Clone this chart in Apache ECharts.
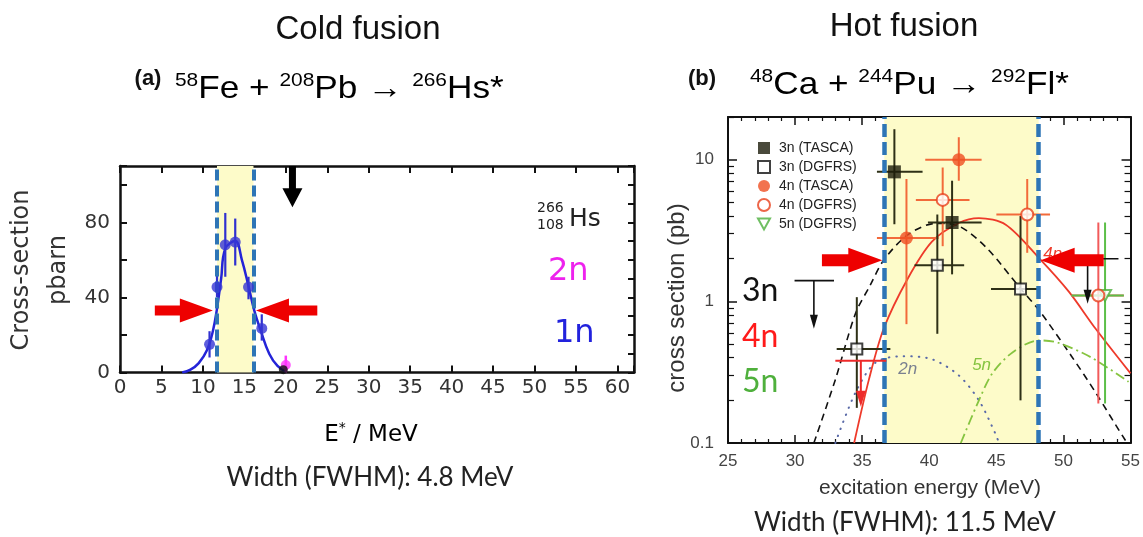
<!DOCTYPE html>
<html><head><meta charset="utf-8">
<script src="https://cdn.jsdelivr.net/npm/echarts@6/dist/echarts.min.js"></script>
<style>html,body{margin:0;padding:0;background:#fff}#c{width:1143px;height:537px}</style>
</head><body><div id="c"></div>
<script>
// ---------- Panel (a): cold fusion 58Fe + 208Pb -> 266Hs*, 1n channel ----------
const coldXTicks = [0, 5, 10, 15, 20, 25, 30, 35, 40, 45, 50, 55, 60];
const coldYTicks = [0, 40, 80];
const coldX   = [10.8, 11.7, 12.7, 13.9, 15.5, 17.1];
const coldY   = [15, 45.5, 68, 69.5, 45.5, 23.5];
const coldYLo = [8, 40, 51, 57, 39, 17];
const coldYHi = [22, 53, 85, 82, 51, 31];
const coldFitX = [7.5, 8.5, 9.5, 10.5, 11.2, 11.7, 12.2, 12.7, 13.9, 14.7, 15.5, 16.2, 17.0, 18.0, 19.0, 20.0];
const coldFitY = [0, 1.5, 5, 12, 22, 34, 50, 66, 70, 60, 46, 33, 22, 10, 3.5, 0.5];
const cold2nX = [20.0], cold2nY = [4], cold2nYHi = [9];
const coldBlackX = [19.7], coldBlackY = [1.5];
const coldBand = [11.7, 16.1];
const coldArrows = [[4.2, 11.2, 33], [23.8, 16.4, 33]];      // [tail, tip, y]
const coldLimit = [[20.8, 110, 88]];                           // [x, top, tip]

// ---------- Panel (b): hot fusion 48Ca + 244Pu -> 292Fl* ----------
const hotXTicks = [25, 30, 35, 40, 45, 50, 55];
const hotYTicks = [0.1, 1, 10];
const hotYMinor = [0.2, 0.3, 0.4, 0.5, 0.6, 0.7, 0.8, 0.9, 2, 3, 4, 5, 6, 7, 8, 9, 20];
// rows: [x, y, xLo, xHi, yLo, yHi]
const h3nTasca = [[37.4, 8.2, 36.1, 39.5, 3.5, 16.4], [41.7, 3.6, 39.9, 43.9, 1.55, 7.1]];
const h3nDgfrs = [[34.6, 0.46, 33.1, 37.1, 0.177, 1.07], [40.6, 1.8, 38.9, 42.6, 0.59, 4.1], [46.8, 1.22, 44.6, 48.2, 0.2, 4.0]];
const h4nTasca = [[38.3, 2.8, 36.1, 40.7, 0.69, 7.3], [42.2, 10, 39.7, 43.9, 7.1, 14.4]];
const h4nDgfrs = [[41.0, 5.2, 39.0, 43.0, 2.45, 8.8], [47.3, 4.1, 45.0, 49.0, 2.2, 7.3], [52.6, 1.1, 50.6, 54.5, 0.19, 3.6]];
const h5nDgfrs = [[53.1, 1.1, 50.6, 54.5, 0.19, 3.6]];
// upper limits: [x, top, tip, xLo, xHi]
const h3nLimit = [[51.8, 2.0, 0.96, 50.8, 54.1]];
const h4nLimit = [[34.9, 0.38, 0.18, 33.0, 36.8]];
const keyLimit = [[31.4, 1.4, 0.64, 29.96, 32.9]];
const fit3nX = [31.4, 33.0, 34.5, 35.6, 36.6, 38.4, 40.5, 42.2, 44.3, 46.8, 48.2, 50.6, 52.4, 54.6, 55.0];
const fit3nY = [0.1, 0.28, 0.82, 1.3, 1.95, 2.95, 3.55, 3.4, 2.37, 1.23, 0.86, 0.41, 0.227, 0.105, 0.095];
const fit4nX = [34.4, 35.5, 36.6, 38.4, 40.2, 42.2, 43.7, 45.7, 48.2, 50.4, 52.4, 55.0];
const fit4nY = [0.1, 0.28, 0.64, 1.45, 2.64, 3.57, 3.87, 3.47, 2.01, 1.17, 0.64, 0.31];
const fit2nX = [33.0, 34.5, 36.0, 38.0, 40.2, 42.2, 43.7, 44.9, 45.2];
const fit2nY = [0.1, 0.227, 0.37, 0.41, 0.39, 0.30, 0.2, 0.118, 0.1];
const fit5nX = [42.35, 43.7, 44.7, 46.2, 48.15, 49.6, 52.1, 54.85];
const fit5nY = [0.1, 0.2, 0.31, 0.436, 0.53, 0.51, 0.40, 0.27];
const hotBand = [36.65, 48.15];
const hotArrows = [[32.0, 36.5, 1.95], [53.0, 48.3, 1.95]];
const hotNotes = [[38.4, 0.33], [43.9, 0.355], [49.2, 2.15]];
const hotNoteText = ['2n', '5n', '4n'];
const hotNoteColor = ['#7a8090', '#86c440', '#ee3a2a'];
const legendNames = ['3n (TASCA)', '3n (DGFRS)', '4n (TASCA)', '4n (DGFRS)', '5n (DGFRS)'];

const A_FONT = "'DejaVu Sans', sans-serif";
const B_FONT = "'Liberation Sans', Arial, sans-serif";
const C_FONT = "Lato, 'Open Sans', sans-serif";
const DOWN_TRI = 'path://M0,0 L10,0 L5,9 Z';

const zip = (a, b) => a.map((v, i) => [v, b[i]]);

function errItem(color, w) {
  return function (params, api) {
    const x = api.value(0), y = api.value(1), xl = api.value(2), xh = api.value(3), yl = api.value(4), yh = api.value(5);
    const ch = [];
    if (xh > xl) {
      const a = api.coord([xl, y]), b = api.coord([xh, y]);
      ch.push({type: 'line', shape: {x1: a[0], y1: a[1], x2: b[0], y2: b[1]}, style: {stroke: color, lineWidth: w}});
    }
    if (yh > yl) {
      const a = api.coord([x, yl]), b = api.coord([x, yh]);
      ch.push({type: 'line', shape: {x1: a[0], y1: a[1], x2: b[0], y2: b[1]}, style: {stroke: color, lineWidth: w}});
    }
    return {type: 'group', children: ch};
  };
}
function fatArrow(color, s, h, H) {
  return function (params, api) {
    const p0 = api.coord([api.value(0), api.value(2)]), p1 = api.coord([api.value(1), api.value(2)]);
    const d = p1[0] > p0[0] ? 1 : -1, y = p0[1], bx = p1[0] - d * H;
    return {type: 'polygon', shape: {points: [[p0[0], y - s], [bx, y - s], [bx, y - h], [p1[0], y], [bx, y + h], [bx, y + s], [p0[0], y + s]]}, style: {fill: color}};
  };
}
function downFatArrow(color, s, h, H) {
  return function (params, api) {
    const p0 = api.coord([api.value(0), api.value(1)]), p1 = api.coord([api.value(0), api.value(2)]);
    const x = p0[0], by = p1[1] - H;
    return {type: 'polygon', shape: {points: [[x - s, p0[1]], [x - s, by], [x - h, by], [x, p1[1]], [x + h, by], [x + s, by], [x + s, p0[1]]]}, style: {fill: color}};
  };
}
function limitItem(color, w, hw, hl) {
  return function (params, api) {
    const x = api.value(0), top = api.value(1), tip = api.value(2), xl = api.value(3), xh = api.value(4);
    const a = api.coord([xl, top]), b = api.coord([xh, top]), t = api.coord([x, top]), p = api.coord([x, tip]);
    return {type: 'group', children: [
      {type: 'line', shape: {x1: a[0], y1: a[1], x2: b[0], y2: b[1]}, style: {stroke: color, lineWidth: w}},
      {type: 'line', shape: {x1: t[0], y1: t[1], x2: p[0], y2: p[1] - hl + 1}, style: {stroke: color, lineWidth: w}},
      {type: 'polygon', shape: {points: [[p[0] - hw, p[1] - hl], [p[0] + hw, p[1] - hl], [p[0], p[1]]]}, style: {fill: color}}
    ]};
  };
}

const lineA = {onZero: false, lineStyle: {color: '#111', width: 2.5}};
const lineB = {onZero: false, lineStyle: {color: '#111', width: 2}};
const supRich = (main, sup) => ({
  m: {fontSize: main, fontFamily: B_FONT, fontWeight: 'normal', color: '#111', lineHeight: 36},
  s: {fontSize: sup, fontFamily: B_FONT, fontWeight: 'normal', color: '#111', lineHeight: 36, verticalAlign: 'top', padding: [0, 0, 16, 0]}
});

const option = {
  animation: false,
  backgroundColor: '#fff',
  grid: [
    {left: 120, top: 166, width: 514, height: 206.5},
    {left: 728, top: 117, width: 404, height: 326}
  ],
  legend: {
    left: 752, top: 136, orient: 'vertical', itemGap: 5, itemWidth: 12, itemHeight: 12,
    selectedMode: false, textStyle: {fontFamily: B_FONT, fontSize: 14, color: '#222', padding: [0, 0, 0, 4]},
    data: legendNames
  },
  xAxis: [
    {gridIndex: 0, type: 'value', min: 0, max: 62, interval: 5, position: 'bottom',
      axisLine: lineA, axisTick: {inside: true, length: 7, lineStyle: {color: '#111', width: 2}},
      axisLabel: {formatter: v => coldXTicks.includes(v) ? String(v) : '', color: '#333', fontFamily: A_FONT, fontSize: 20, margin: 5},
      splitLine: {show: false}},
    {gridIndex: 0, type: 'value', min: 0, max: 62, interval: 5, position: 'top',
      axisLine: lineA, axisTick: {inside: true, length: 7, lineStyle: {color: '#111', width: 2}},
      axisLabel: {show: false}, splitLine: {show: false}},
    {gridIndex: 1, type: 'value', min: 25, max: 55, interval: 5, position: 'bottom',
      axisLine: lineB, axisTick: {inside: true, length: 8, lineStyle: {color: '#111', width: 1.5}},
      minorTick: {show: true, splitNumber: 5, length: 4, lineStyle: {color: '#111', width: 1.2}},
      axisLabel: {formatter: v => hotXTicks.includes(v) ? String(v) : '', color: '#444', fontFamily: B_FONT, fontSize: 17, margin: 10},
      splitLine: {show: false}},
    {gridIndex: 1, type: 'value', min: 25, max: 55, interval: 5, position: 'top',
      axisLine: lineB, axisTick: {inside: true, length: 8, lineStyle: {color: '#111', width: 1.5}},
      minorTick: {show: true, splitNumber: 5, length: 4, lineStyle: {color: '#111', width: 1.2}},
      axisLabel: {show: false}, splitLine: {show: false}}
  ],
  yAxis: [
    {gridIndex: 0, type: 'value', min: 0, max: 110, interval: 20, position: 'left',
      axisLine: Object.assign({show: true}, lineA), axisTick: {show: true, inside: true, length: 7, lineStyle: {color: '#111', width: 2}},
      axisLabel: {formatter: v => coldYTicks.includes(v) ? String(v) : '', color: '#333', fontFamily: A_FONT, fontSize: 20, margin: 10},
      splitLine: {show: false}},
    {gridIndex: 0, type: 'value', min: 0, max: 110, interval: 10, position: 'right',
      axisLine: Object.assign({show: true}, lineA), axisTick: {show: true, inside: true, length: 6, lineStyle: {color: '#111', width: 2}},
      axisLabel: {show: false}, splitLine: {show: false}},
    {gridIndex: 1, type: 'log', logBase: 10, min: 0.1, max: 20, position: 'left',
      axisLine: Object.assign({show: true}, lineB),
      axisTick: {show: true, inside: true, length: 9, customValues: hotYTicks, lineStyle: {color: '#111', width: 1.5}},
      axisLabel: {customValues: hotYTicks, formatter: v => { const l = Math.log10(v); return Math.abs(l - Math.round(l)) < 1e-6 && v < 15 ? String(+v.toPrecision(3)) : ''; },
        color: '#444', fontFamily: B_FONT, fontSize: 17, margin: 14},
      splitLine: {show: false}},
    {gridIndex: 1, type: 'log', logBase: 10, min: 0.1, max: 20, position: 'left',
      axisLine: {show: false},
      axisTick: {show: true, inside: true, length: 6, customValues: hotYMinor, lineStyle: {color: '#111', width: 1.2}},
      axisLabel: {show: false}, splitLine: {show: false}},
    {gridIndex: 1, type: 'log', logBase: 10, min: 0.1, max: 20, position: 'right',
      axisLine: Object.assign({show: true}, lineB),
      axisTick: {show: true, inside: true, length: 9, customValues: hotYTicks, lineStyle: {color: '#111', width: 1.5}},
      axisLabel: {show: false}, splitLine: {show: false}},
    {gridIndex: 1, type: 'log', logBase: 10, min: 0.1, max: 20, position: 'right',
      axisLine: {show: false},
      axisTick: {show: true, inside: true, length: 6, customValues: hotYMinor, lineStyle: {color: '#111', width: 1.2}},
      axisLabel: {show: false}, splitLine: {show: false}}
  ],
  series: [
    // ---- panel (a)
    {type: 'line', name: 'fit1n', xAxisIndex: 0, yAxisIndex: 0, data: zip(coldFitX, coldFitY), smooth: 0.4, showSymbol: false,
      lineStyle: {color: '#2424d8', width: 2.5}, z: 3, silent: true,
      markArea: {silent: true, itemStyle: {color: '#fdfbc9'}, data: [[{xAxis: coldBand[0]}, {xAxis: coldBand[1]}]]},
      markLine: {silent: true, symbol: 'none', label: {show: false}, lineStyle: {color: '#2e75b6', width: 4, type: [11, 5]},
        data: [{xAxis: coldBand[0]}, {xAxis: coldBand[1]}]}},
    {type: 'custom', xAxisIndex: 0, yAxisIndex: 0, renderItem: errItem('#3030d0', 2.2), encode: {x: 0, y: 1},
      data: coldX.map((x, i) => [x, coldY[i], x, x, coldYLo[i], coldYHi[i]]), z: 4, silent: true},
    {type: 'custom', xAxisIndex: 0, yAxisIndex: 0, renderItem: errItem('#ff33ff', 2.5), encode: {x: 0, y: 1},
      data: cold2nX.map((x, i) => [x, cold2nY[i], x, x, 0, cold2nYHi[i]]), z: 4, silent: true},
    {type: 'scatter', xAxisIndex: 0, yAxisIndex: 0, data: zip(cold2nX, cold2nY), symbolSize: 10, itemStyle: {color: '#ff33ff'}, z: 5, silent: true},
    {type: 'scatter', xAxisIndex: 0, yAxisIndex: 0, data: zip(coldBlackX, coldBlackY), symbolSize: 9, itemStyle: {color: '#111'}, z: 6, silent: true},
    {type: 'scatter', xAxisIndex: 0, yAxisIndex: 0, data: zip(coldX, coldY), symbolSize: 11, itemStyle: {color: '#3636d4'}, z: 6, silent: true},
    {type: 'custom', xAxisIndex: 0, yAxisIndex: 0, renderItem: fatArrow('#ee0000', 5, 12, 33), encode: {x: [0, 1], y: 2},
      data: coldArrows, z: 10, silent: true},
    {type: 'custom', xAxisIndex: 0, yAxisIndex: 0, renderItem: downFatArrow('#000', 3.5, 10, 19), encode: {x: 0, y: [1, 2]},
      data: coldLimit, z: 10, silent: true},

    // ---- panel (b)
    {type: 'line', name: 'fit3n', xAxisIndex: 2, yAxisIndex: 2, data: zip(fit3nX, fit3nY), smooth: 0.3, showSymbol: false,
      lineStyle: {color: '#111', width: 1.6, type: [7, 5]}, z: 3, silent: true,
      markArea: {silent: true, itemStyle: {color: '#fdfbc9'}, data: [[{xAxis: hotBand[0]}, {xAxis: hotBand[1]}]]},
      markLine: {silent: true, symbol: 'none', label: {show: false}, lineStyle: {color: '#2e75b6', width: 4.5, type: [13, 5]},
        data: [{xAxis: hotBand[0]}, {xAxis: hotBand[1]}]}},
    {type: 'line', name: 'fit4n', xAxisIndex: 2, yAxisIndex: 2, data: zip(fit4nX, fit4nY), smooth: 0.3, showSymbol: false,
      lineStyle: {color: '#ee3a2a', width: 1.8}, z: 3, silent: true},
    {type: 'line', name: 'fit2n', xAxisIndex: 2, yAxisIndex: 2, data: zip(fit2nX, fit2nY), smooth: 0.3, showSymbol: false,
      lineStyle: {color: '#5a6aa8', width: 2, type: [0.5, 7], cap: 'round'}, z: 3, silent: true},
    {type: 'line', name: 'fit5n', xAxisIndex: 2, yAxisIndex: 2, data: zip(fit5nX, fit5nY), smooth: 0.3, showSymbol: false,
      lineStyle: {color: '#86c440', width: 1.8, type: [10, 4, 2, 4]}, z: 3, silent: true},
    {type: 'custom', xAxisIndex: 2, yAxisIndex: 2, renderItem: errItem('#f26a3a', 2), encode: {x: 0, y: 1}, data: h4nTasca, z: 4, silent: true},
    {type: 'custom', xAxisIndex: 2, yAxisIndex: 2, renderItem: errItem('#f26a3a', 2), encode: {x: 0, y: 1}, data: h4nDgfrs.slice(0, 2), z: 4, silent: true},
    {type: 'custom', xAxisIndex: 2, yAxisIndex: 2, renderItem: errItem('#f25a5a', 2), encode: {x: 0, y: 1}, data: h4nDgfrs.slice(2), z: 4, silent: true},
    {type: 'custom', xAxisIndex: 2, yAxisIndex: 2, renderItem: errItem('#5cbf48', 2), encode: {x: 0, y: 1}, data: h5nDgfrs, z: 4, silent: true},
    {type: 'custom', xAxisIndex: 2, yAxisIndex: 2, renderItem: errItem('#2e3016', 2), encode: {x: 0, y: 1}, data: h3nTasca.concat(h3nDgfrs), z: 4, silent: true},
    {type: 'custom', xAxisIndex: 2, yAxisIndex: 2, renderItem: limitItem('#ee2a2a', 2, 5, 16), encode: {x: 0, y: [1, 2]}, data: h4nLimit, z: 5, silent: true},
    {type: 'custom', xAxisIndex: 2, yAxisIndex: 2, renderItem: limitItem('#111', 1.6, 4, 14), encode: {x: 0, y: [1, 2]}, data: h3nLimit.concat(keyLimit), z: 5, silent: true},
    {type: 'scatter', name: legendNames[4], xAxisIndex: 2, yAxisIndex: 2, data: h5nDgfrs.map(r => [r[0], r[1]]), symbol: DOWN_TRI, symbolSize: [12, 11],
      itemStyle: {color: '#fff', borderColor: '#4caf3c', borderWidth: 2}, z: 6, silent: true},
    {type: 'scatter', name: legendNames[0], xAxisIndex: 2, yAxisIndex: 2, data: h3nTasca.map(r => [r[0], r[1]]), symbol: 'rect', symbolSize: 13,
      itemStyle: {color: '#1c1c0a'}, z: 7, silent: true},
    {type: 'scatter', name: legendNames[1], xAxisIndex: 2, yAxisIndex: 2, data: h3nDgfrs.map(r => [r[0], r[1]]), symbol: 'rect', symbolSize: 11,
      itemStyle: {color: '#fff', borderColor: '#111', borderWidth: 2}, z: 7, silent: true},
    {type: 'scatter', name: legendNames[2], xAxisIndex: 2, yAxisIndex: 2, data: h4nTasca.map(r => [r[0], r[1]]), symbol: 'circle', symbolSize: 13,
      itemStyle: {color: '#ef4f22'}, z: 7, silent: true},
    {type: 'scatter', name: legendNames[3], xAxisIndex: 2, yAxisIndex: 2, data: h4nDgfrs.map(r => [r[0], r[1]]), symbol: 'circle', symbolSize: 12,
      itemStyle: {color: '#fff', borderColor: '#e8401c', borderWidth: 2}, z: 7, silent: true},
    {type: 'custom', xAxisIndex: 2, yAxisIndex: 2, encode: {x: 0, y: 1}, data: hotNotes, z: 8, silent: true,
      renderItem: (params, api) => {
        const p = api.coord([api.value(0), api.value(1)]);
        return {type: 'text', x: p[0], y: p[1], style: {text: hotNoteText[params.dataIndex], fill: hotNoteColor[params.dataIndex],
          font: 'italic 17px ' + B_FONT, align: 'center', verticalAlign: 'middle', textAlign: 'center', textVerticalAlign: 'middle'}};
      }},
    {type: 'custom', xAxisIndex: 2, yAxisIndex: 2, renderItem: fatArrow('#ee0000', 6, 12.5, 34), encode: {x: [0, 1], y: 2},
      data: hotArrows, z: 10, silent: true}
  ],
  graphic: [
    {type: 'text', x: 358, y: 30, style: {text: 'Cold fusion', font: '33px ' + B_FONT, fill: '#111', align: 'center', verticalAlign: 'middle'}},
    {type: 'text', x: 148, y: 79, style: {text: '(a)', font: 'bold 22px ' + B_FONT, fill: '#111', align: 'center', verticalAlign: 'middle'}},
    {type: 'text', x: 175, y: 89, scaleX: 1.1, style: {text: '{s|58}{m|Fe + }{s|208}{m|Pb → }{s|266}{m|Hs*}', fontWeight: 'normal', align: 'left', verticalAlign: 'middle', rich: supRich(32, 19)}},
    {type: 'text', x: 904, y: 27, style: {text: 'Hot fusion', font: '33px ' + B_FONT, fill: '#111', align: 'center', verticalAlign: 'middle'}},
    {type: 'text', x: 702, y: 79, style: {text: '(b)', font: 'bold 22px ' + B_FONT, fill: '#111', align: 'center', verticalAlign: 'middle'}},
    {type: 'text', x: 750, y: 85, scaleX: 1.1, style: {text: '{s|48}{m|Ca + }{s|244}{m|Pu → }{s|292}{m|Fl*}', fontWeight: 'normal', align: 'left', verticalAlign: 'middle', rich: supRich(32, 19)}},
    // axis names / notes panel (a)
    {type: 'text', x: 40, y: 270, rotation: Math.PI / 2, style: {text: 'Cross-section\npbarn', font: '24px ' + A_FONT, fill: '#333', align: 'center', verticalAlign: 'middle', lineHeight: 37}},
    {type: 'text', x: 371, y: 435, style: {text: '{n|E}{s|*}{n| / MeV}', align: 'center', verticalAlign: 'middle',
      rich: {n: {fontSize: 23, fontFamily: A_FONT, color: '#333', lineHeight: 28}, s: {fontSize: 14, fontFamily: A_FONT, color: '#333', lineHeight: 28, verticalAlign: 'top'}}}},
    {type: 'text', x: 370, y: 478, style: {text: 'Width (FWHM): 4.8 MeV', font: '26px ' + C_FONT, fill: '#222', align: 'center', verticalAlign: 'middle'}},
    {type: 'text', x: 537, y: 208, style: {text: '266', font: '14px ' + A_FONT, fill: '#222', align: 'left', verticalAlign: 'middle'}},
    {type: 'text', x: 537, y: 225, style: {text: '108', font: '14px ' + A_FONT, fill: '#222', align: 'left', verticalAlign: 'middle'}},
    {type: 'text', x: 569, y: 219, style: {text: 'Hs', font: '25px ' + A_FONT, fill: '#222', align: 'left', verticalAlign: 'middle'}},
    {type: 'text', x: 548, y: 272, style: {text: '2n', font: '32px ' + A_FONT, fill: '#ee22ee', align: 'left', verticalAlign: 'middle'}},
    {type: 'text', x: 554, y: 334, style: {text: '1n', font: '32px ' + A_FONT, fill: '#2222dd', align: 'left', verticalAlign: 'middle'}},
    // panel (b)
    {type: 'text', x: 677, y: 298, rotation: Math.PI / 2, style: {text: 'cross section (pb)', font: '24px ' + B_FONT, fill: '#333', align: 'center', verticalAlign: 'middle'}},
    {type: 'text', x: 930, y: 488, style: {text: 'excitation energy (MeV)', font: '21px ' + B_FONT, fill: '#333', align: 'center', verticalAlign: 'middle'}},
    {type: 'text', x: 905, y: 523, style: {text: 'Width (FWHM): 11.5 MeV', font: '26px ' + C_FONT, fill: '#222', align: 'center', verticalAlign: 'middle'}},
    {type: 'text', x: 742, y: 291, style: {text: '3n', font: '32px ' + C_FONT, fill: '#111', align: 'left', verticalAlign: 'middle'}},
    {type: 'text', x: 742, y: 337, style: {text: '4n', font: '32px ' + C_FONT, fill: '#ff1a1a', align: 'left', verticalAlign: 'middle'}},
    {type: 'text', x: 742, y: 382, style: {text: '5n', font: '32px ' + C_FONT, fill: '#4fb03c', align: 'left', verticalAlign: 'middle'}}
  ]
};
const chart = echarts.init(document.getElementById('c'), null, {renderer: 'canvas'});
chart.setOption(option);
</script>
</body></html>
